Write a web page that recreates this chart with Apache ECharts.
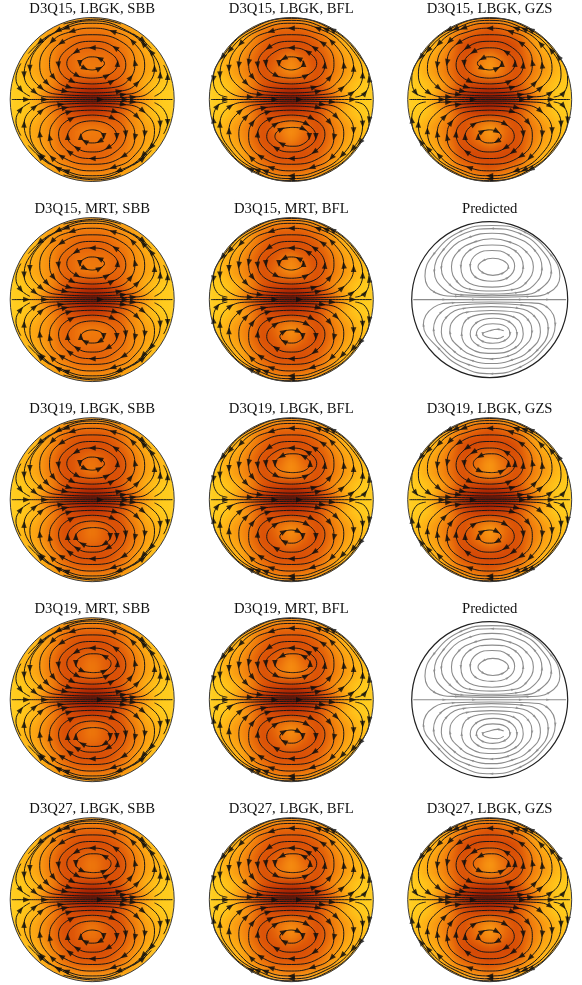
<!DOCTYPE html>
<html>
<head>
<meta charset="utf-8">
<title>Streamlines</title>
<script src="https://cdn.jsdelivr.net/npm/echarts@6/dist/echarts.min.js"></script>
<style>
  html, body { margin: 0; padding: 0; background: #fff; }
  #heat, #main { position: absolute; left: 0; top: 0; width: 582px; height: 985px; }
  /* the coarse colour cells are softened here, the ring mask in #main trims them to the disc */
  #heat { filter: blur(6px); }
</style>
</head>
<body>
<div id="heat"></div>
<div id="main"></div>
<script>
// Panel titles, left to right and top to bottom
const panelTitles = [
  'D3Q15, LBGK, SBB', 'D3Q15, LBGK, BFL', 'D3Q15, LBGK, GZS',
  'D3Q15, MRT, SBB', 'D3Q15, MRT, BFL', 'Predicted',
  'D3Q19, LBGK, SBB', 'D3Q19, LBGK, BFL', 'D3Q19, LBGK, GZS',
  'D3Q19, MRT, SBB', 'D3Q19, MRT, BFL', 'Predicted',
  'D3Q27, LBGK, SBB', 'D3Q27, LBGK, BFL', 'D3Q27, LBGK, GZS'
];

// Colour level tables, read by eye. Rows y = 1 .. -1, columns x = -1 .. 1, 0 = yellow, 9 = dark red
const fieldSbb = [
  [0,0,0,1,1,2,2,2,1,1,0,0,0],
  [0,0,1,2,3,4,4,4,3,2,1,0,0],
  [0,0,1,3,4,5,5,5,4,3,1,0,0],
  [0,1,2,3,5,4,4,4,5,3,2,1,0],
  [0,1,2,3,5,4,3.5,4,5,3,2,1,0],
  [0,0,1,3,5,6.5,7,6.5,5,3,1,0,0],
  [0,0,2,5,7.5,9,10,9,7.5,5,2,0,0],
  [0,0,1,3,5,6.5,7,6.5,5,3,1,0,0],
  [0,1,2,3,5,4,3.5,4,5,3,2,1,0],
  [0,1,2,3,5,4,4,4,5,3,2,1,0],
  [0,0,1,3,4,5,5,5,4,3,1,0,0],
  [0,0,1,2,3,4,4,4,3,2,1,0,0],
  [0,0,0,1,1,2,2,2,1,1,0,0,0]
];
const fieldSbbDark = [
  [0,0,0,1,1,2,2,2,1,1,0,0,0],
  [0,0,1,2,4,5,5,5,4,2,1,0,0],
  [0,0,1,3,5,6,6,6,5,3,1,0,0],
  [0,1,2,4,6,5,4,5,6,4,2,1,0],
  [0,1,2,4,6,5,3.5,5,6,4,2,1,0],
  [0,0,1,3,5.5,6.5,7,6.5,5.5,3,1,0,0],
  [0,0,2,5,7.5,9,10,9,7.5,5,2,0,0],
  [0,0,1,3,5.5,6.5,7,6.5,5.5,3,1,0,0],
  [0,1,2,4,6,5,3.5,5,6,4,2,1,0],
  [0,1,2,4,6,5,4,5,6,4,2,1,0],
  [0,0,1,3,5,6,6,6,5,3,1,0,0],
  [0,0,1,2,4,5,5,5,4,2,1,0,0],
  [0,0,0,1,1,2,2,2,1,1,0,0,0]
];
const fieldBfl = [
  [0,0,0,1,1,2,3,2,1,1,0,0,0],
  [0,0,1,2,4,5,5,5,4,2,1,0,0],
  [0,1,1,3,5,6,6,6,5,3,1,1,0],
  [0,1,2,4,6,5,3,5,6,4,2,1,0],
  [0,1,2.5,4,6,4,2.5,4,6,4,2.5,1,0],
  [0,0,1,3,5.5,6.5,7,6.5,5.5,3,1,0,0],
  [0,0,2,5,7.5,9,10,9,7.5,5,2,0,0],
  [0,0,1,3,5.5,6.5,7,6.5,5.5,3,1,0,0],
  [0,1,2.5,4,6,4,2.5,4,6,4,2.5,1,0],
  [0,1,2,4,6,5,3,5,6,4,2,1,0],
  [0,1,1,3,5,6,6,6,5,3,1,1,0],
  [0,0,1,2,4,5,5,5,4,2,1,0,0],
  [0,0,0,1,1,2,3,2,1,1,0,0,0]
];
const fieldGzs = [
  [0,0,0,1,1,2,3,2,1,1,0,0,0],
  [0,0,1,2,4,5,6,5,4,2,1,0,0],
  [0,1,1,3,6,6.5,6,6.5,6,3,1,1,0],
  [0,1,2,4,6,4.5,2.5,4.5,6,4,2,1,0],
  [0,1,2.5,4,6,4,2,4,6,4,2.5,1,0],
  [0,0,1,3,5.5,6.5,7,6.5,5.5,3,1,0,0],
  [0,0,2,5,8,9.5,10,9.5,8,5,2,0,0],
  [0,0,1,3,5.5,6.5,7,6.5,5.5,3,1,0,0],
  [0,1,2.5,4,6,4,2,4,6,4,2.5,1,0],
  [0,1,2,4,6,4.5,2.5,4.5,6,4,2,1,0],
  [0,1,1,3,6,6.5,6,6.5,6,3,1,1,0],
  [0,0,1,2,4,5,6,5,4,2,1,0,0],
  [0,0,0,1,1,2,3,2,1,1,0,0,0]
];
// field used by each panel, null for the Predicted panels
const panelFields = [
  fieldSbb, fieldBfl, fieldGzs,
  fieldSbb, fieldBfl, null,
  fieldSbbDark, fieldBfl, fieldGzs,
  fieldSbbDark, fieldBfl, null,
  fieldSbbDark, fieldBfl, fieldGzs
];

// Streamlines in disc units (radius 1), written in the flow direction
const axisLine = [[[-.98,0],[-.8,0],[-.58,0],[-.2,0],[.1,0],[.4,0],[.75,0],[.98,0]]];
const innerUpper = [[[0,.36],[.09,.38],[.15,.44],[.09,.50],[0,.52],[-.09,.50],[-.15,.44],[-.09,.38],[0,.36]]];
const innerLower = [[[0,-.37],[.09,-.39],[.14,-.45],[.09,-.51],[0,-.53],[-.09,-.51],[-.14,-.45],[-.09,-.39],[0,-.37]]];
const wideInnerUpper = [[[.02,.33],[.15,.35],[.23,.44],[.15,.53],[.02,.56],[-.12,.53],[-.2,.44],[-.12,.35],[.02,.33]]];
const wideInnerLower = [[[.02,-.34],[.15,-.36],[.22,-.45],[.15,-.54],[.02,-.57],[-.12,-.54],[-.2,-.45],[-.12,-.36],[.02,-.34]]];
const coreUpper = [
  [[0,.26],[.18,.29],[.31,.44],[.2,.58],[0,.63],[-.2,.58],[-.31,.44],[-.18,.29],[0,.26]],
  [[0,.19],[.24,.22],[.41,.42],[.28,.63],[0,.71],[-.28,.63],[-.41,.42],[-.24,.22],[0,.19]],
  [[0,.13],[.28,.15],[.47,.27],[.52,.45],[.38,.69],[0,.79],[-.38,.69],[-.52,.45],[-.47,.27],[-.28,.15],[0,.13]],
  [[0,.08],[.33,.10],[.55,.20],[.64,.42],[.49,.71],[.25,.83],[0,.87],[-.25,.83],[-.49,.71],[-.64,.42],[-.55,.20],[-.33,.10],[0,.08]],
  [[0,.045],[.38,.06],[.62,.14],[.76,.38],[.62,.68],[.32,.87],[0,.93],[-.32,.87],[-.62,.68],[-.76,.38],[-.62,.14],[-.38,.06],[0,.045]]
];
const coreLower = [
  [[0,-.26],[.19,-.3],[.3,-.45],[.19,-.59],[0,-.64],[-.19,-.59],[-.3,-.45],[-.19,-.3],[0,-.26]],
  [[0,-.19],[.25,-.23],[.41,-.42],[.28,-.64],[0,-.72],[-.28,-.64],[-.41,-.42],[-.25,-.23],[0,-.19]],
  [[0,-.13],[.28,-.15],[.47,-.28],[.52,-.46],[.38,-.69],[0,-.79],[-.38,-.69],[-.52,-.46],[-.47,-.28],[-.28,-.15],[0,-.13]],
  [[0,-.08],[.33,-.10],[.55,-.21],[.64,-.42],[.49,-.71],[.25,-.83],[0,-.87],[-.25,-.83],[-.49,-.71],[-.64,-.42],[-.55,-.21],[-.33,-.10],[0,-.08]],
  [[0,-.045],[.38,-.06],[.62,-.14],[.76,-.38],[.62,-.68],[.32,-.87],[0,-.93],[-.32,-.87],[-.62,-.68],[-.76,-.38],[-.62,-.14],[-.38,-.06],[0,-.045]]
];
// outer lines of the BFL and GZS panels, they run along the wall
const wallUpper = [
  [[.1,.02],[.5,.03],[.74,.08],[.87,.3],[.75,.6],[.42,.86],[0,.965],[-.42,.86],[-.75,.6],[-.87,.3],[-.74,.08],[-.5,.03],[.1,.02]],
  [[.78,.03],[.9,.08],[.95,.25],[.84,.52],[.5,.85],[0,.99],[-.5,.85],[-.84,.52],[-.95,.25],[-.9,.08],[-.78,.03]]
];
const wallLower = [
  [[.1,-.02],[.5,-.03],[.74,-.08],[.87,-.3],[.75,-.6],[.42,-.86],[0,-.965],[-.42,-.86],[-.75,-.6],[-.87,-.3],[-.74,-.08],[-.5,-.03],[.1,-.02]],
  [[.78,-.03],[.9,-.08],[.95,-.25],[.84,-.52],[.5,-.85],[0,-.99],[-.5,-.85],[-.84,-.52],[-.95,-.25],[-.9,-.08],[-.78,-.03]]
];
// outer lines of the SBB panels, broken up near the wall
const sbbUpper = [
  [[.1,.02],[.5,.03],[.7,.09],[.83,.3],[.72,.58],[.42,.84],[0,.96],[-.42,.84],[-.72,.58],[-.83,.3],[-.7,.09],[-.5,.03],[.1,.02]],
  [[.76,.04],[.87,.12],[.92,.28],[.87,.42]],
  [[.5,.8],[.62,.72],[.72,.62]],
  [[.35,.92],[.05,.98],[-.35,.92]],
  [[-.87,.44],[-.93,.26],[-.87,.12],[-.76,.04]],
  [[-.52,.79],[-.64,.70],[-.78,.56]]
];
const sbbLower = [
  [[.1,-.02],[.5,-.03],[.7,-.09],[.83,-.3],[.72,-.58],[.42,-.84],[0,-.96],[-.42,-.84],[-.72,-.58],[-.83,-.3],[-.7,-.09],[-.5,-.03],[.1,-.02]],
  [[.76,-.04],[.87,-.12],[.92,-.28],[.87,-.42]],
  [[.5,-.8],[.62,-.72],[.72,-.62]],
  [[.35,-.92],[.05,-.98],[-.35,-.92]],
  [[-.87,-.44],[-.93,-.26],[-.87,-.12],[-.76,-.04]],
  [[-.52,-.79],[-.64,-.70],[-.78,-.56]]
];
// the Predicted panels
const predictedUpper = [
  [[.04,.31],[.17,.34],[.24,.42],[.17,.50],[.04,.53],[-.08,.50],[-.15,.42],[-.08,.34],[.04,.31]],
  [[.03,.235],[.23,.28],[.32,.43],[.23,.58],[.03,.63],[-.17,.58],[-.25,.43],[-.17,.28],[.03,.235]],
  [[.03,.16],[.3,.21],[.43,.42],[.32,.63],[.03,.70],[-.26,.63],[-.37,.42],[-.26,.21],[.03,.16]],
  [[.03,.11],[.3,.13],[.47,.22],[.56,.42],[.46,.62],[.25,.74],[.03,.78],[-.19,.74],[-.4,.62],[-.49,.42],[-.41,.22],[-.24,.13],[.03,.11]],
  [[.03,.07],[.35,.09],[.56,.18],[.67,.40],[.57,.64],[.32,.80],[.03,.85],[-.26,.80],[-.51,.64],[-.62,.40],[-.5,.18],[-.3,.09],[.03,.07]],
  [[.03,.05],[.4,.06],[.64,.13],[.79,.36],[.67,.63],[.38,.85],[.03,.91],[-.32,.85],[-.6,.63],[-.71,.36],[-.58,.13],[-.35,.06],[.03,.05]],
  [[.03,.03],[.5,.04],[.76,.09],[.9,.3],[.78,.58],[.44,.87],[.03,.95],[-.38,.87],[-.72,.58],[-.83,.3],[-.7,.09],[-.42,.04],[.03,.03]]
];
const predictedLower = [
  [[.18,-.4],[.1,-.38],[0,-.4],[-.09,-.44],[0,-.49],[.1,-.5],[.18,-.47]],
  [[.04,-.31],[.2,-.34],[.26,-.44],[.18,-.53],[.04,-.56],[-.1,-.53],[-.17,-.44],[-.1,-.34],[.04,-.31]],
  [[.05,-.24],[.26,-.29],[.35,-.44],[.26,-.58],[.05,-.63],[-.16,-.58],[-.25,-.44],[-.16,-.29],[.05,-.24]],
  [[.03,-.18],[.32,-.23],[.43,-.44],[.32,-.62],[.03,-.69],[-.26,-.62],[-.36,-.44],[-.26,-.23],[.03,-.18]],
  [[.02,-.14],[.32,-.16],[.5,-.27],[.54,-.42],[.42,-.62],[.22,-.73],[.02,-.76],[-.18,-.73],[-.38,-.62],[-.51,-.42],[-.47,-.27],[-.28,-.16],[.02,-.14]],
  [[.02,-.09],[.36,-.11],[.58,-.22],[.65,-.42],[.5,-.66],[.27,-.78],[.02,-.82],[-.23,-.78],[-.46,-.66],[-.62,-.42],[-.55,-.22],[-.32,-.11],[.02,-.09]],
  [[.02,-.05],[.42,-.07],[.66,-.16],[.75,-.38],[.6,-.66],[.32,-.83],[.02,-.88],[-.28,-.83],[-.56,-.66],[-.72,-.38],[-.62,-.16],[-.38,-.07],[.02,-.05]],
  [[.02,-.03],[.5,-.04],[.74,-.1],[.84,-.32],[.7,-.62],[.38,-.87],[.02,-.95],[-.34,-.87],[-.66,-.62],[-.85,-.32],[-.72,-.1],[-.46,-.04],[.02,-.03]]
];

// 1 = small innermost loop, 0 = wider one, upper and lower lobe
const panelInner = [
  [1,1], [1,0], [1,1],
  [1,1], [1,1], [0,0],
  [1,0], [0,1], [0,1],
  [0,0], [0,1], [0,0],
  [0,1], [0,1], [0,1]
];
const panelOuter = [
  'sbb', 'wall', 'wall',
  'sbb', 'wall', 'predicted',
  'sbb', 'wall', 'wall',
  'sbb', 'wall', 'predicted',
  'sbb', 'wall', 'wall'
];

function linesForPanel(p) {
  if (panelOuter[p] === 'predicted') return [...axisLine, ...predictedUpper, ...predictedLower];
  const outer = panelOuter[p] === 'sbb' ? [...sbbUpper, ...sbbLower] : [...wallUpper, ...wallLower];
  return [
    ...axisLine,
    ...(panelInner[p][0] ? innerUpper : wideInnerUpper),
    ...(panelInner[p][1] ? innerLower : wideInnerLower),
    ...coreUpper, ...coreLower, ...outer
  ];
}

// Layout in pixels
const colCenters = [92.2, 291.3, 489.7];
const rowCenters = [99.5, 299.6, 499.7, 699.7, 899.7];
const titleCenters = [8, 208, 408, 608, 808];
const discRadius = 82;
const predictedRadius = 78;
const cellLabels = ['-1','-.83','-.67','-.5','-.33','-.17','0','.17','.33','.5','.67','.83','1'];
const heatColors = ['#ffcb1c', '#ffb616', '#fb9e11', '#f5870d', '#ec700a', '#e05807', '#d24405', '#bd2d03', '#a51a01', '#8a0e00'];

function hiddenAxis(type, gridIndex, extra) {
  return Object.assign({ type, gridIndex, show: false }, extra);
}

function buildHeatOption() {
  const grid = [], xAxis = [], yAxis = [], series = [];
  panelFields.forEach((field, p) => {
    if (!field) return;
    const cx = colCenters[p % 3], cy = rowCenters[Math.floor(p / 3)];
    const half = discRadius * 13 / 12;
    const g = grid.length;
    grid.push({ left: cx - half, top: cy - half, width: half * 2, height: half * 2 });
    xAxis.push(hiddenAxis('category', g, { data: cellLabels }));
    yAxis.push(hiddenAxis('category', g, { data: cellLabels, inverse: true }));
    const cells = [];
    field.forEach((row, r) => row.forEach((v, c) => {
      // corners far outside the disc are skipped so the blur does not reach the next panel
      if (Math.hypot(c - 6, r - 6) <= 7) cells.push([c, r, v]);
    }));
    series.push({
      type: 'heatmap', xAxisIndex: g, yAxisIndex: g, data: cells,
      progressive: 0, silent: true, animation: false
    });
  });
  return {
    animation: false,
    visualMap: { show: false, min: 0, max: 9.5, inRange: { color: heatColors } },
    grid, xAxis, yAxis, series
  };
}

function buildMainOption() {
  const title = [], grid = [], xAxis = [], yAxis = [], series = [];
  panelTitles.forEach((text, p) => {
    const rowIndex = Math.floor(p / 3);
    const predicted = !panelFields[p];
    const radius = predicted ? predictedRadius : discRadius;
    const cx = colCenters[p % 3], cy = rowCenters[rowIndex];
    title.push({
      text, left: cx, top: titleCenters[rowIndex] - 6, textAlign: 'center', padding: 0,
      textStyle: { fontFamily: 'Liberation Serif', fontSize: 14.7, fontWeight: 'normal', color: '#111' }
    });
    grid.push({ left: cx - radius, top: cy - radius, width: radius * 2, height: radius * 2 });
    xAxis.push(hiddenAxis('value', p, { min: -1, max: 1 }));
    yAxis.push(hiddenAxis('value', p, { min: -1, max: 1 }));

    const common = { xAxisIndex: p, yAxisIndex: p, silent: true, animation: false };
    if (!predicted) {
      // white ring that trims the blurred colour layer to the disc
      series.push(Object.assign({
        type: 'custom', z: 1, clip: false, data: [[0, 0]],
        renderItem: (params, api) => {
          const c = api.coord([0, 0]);
          return { type: 'ring', shape: { cx: c[0], cy: c[1], r: radius + 33, r0: radius }, style: { fill: '#fff' } };
        }
      }, common));
    }
    const path = [], arrows = [];
    linesForPanel(p).forEach((line, l) => {
      line.forEach((pt, i) => {
        path.push(pt);
        // arrows on two of three points, staggered from line to line, mostly not on the centre column
        const onCentre = Math.abs(pt[0]) < 0.06 && l % 3 !== 0;
        if (i > 0 && i < line.length - 1 && (i + l + p) % 3 !== 0 && !onCentre) {
          const a = line[i - 1], b = line[i + 1];
          arrows.push({ value: pt, symbolRotate: Math.atan2(b[1] - a[1], b[0] - a[0]) * 180 / Math.PI - 90 });
        }
      });
      path.push(['-', '-']);
    });
    series.push(Object.assign({
      type: 'line', z: 2, data: path, smooth: 0.45, showSymbol: false, clip: false,
      lineStyle: { color: predicted ? '#8c8c8c' : '#181818', width: predicted ? 1.1 : 1 }
    }, common));
    series.push(Object.assign({
      type: 'scatter', z: 3, data: arrows, symbol: 'triangle', clip: false,
      symbolSize: predicted ? [2.5, 4] : [5.5, 7],
      itemStyle: { color: predicted ? '#8c8c8c' : '#0c0c0c' }
    }, common));
    series.push(Object.assign({
      type: 'custom', z: 4, clip: false, data: [[0, 0]],
      renderItem: (params, api) => {
        const c = api.coord([0, 0]);
        return {
          type: 'circle', shape: { cx: c[0], cy: c[1], r: radius },
          style: { fill: 'none', stroke: predicted ? '#222' : '#3a3a3a', lineWidth: predicted ? 1.2 : 1 }
        };
      }
    }, common));
  });
  return { animation: false, backgroundColor: 'transparent', title, grid, xAxis, yAxis, series };
}

document.addEventListener('DOMContentLoaded', function() {
  echarts.init(document.getElementById('heat')).setOption(buildHeatOption());
  echarts.init(document.getElementById('main')).setOption(buildMainOption());
});
</script>
</body>
</html>
